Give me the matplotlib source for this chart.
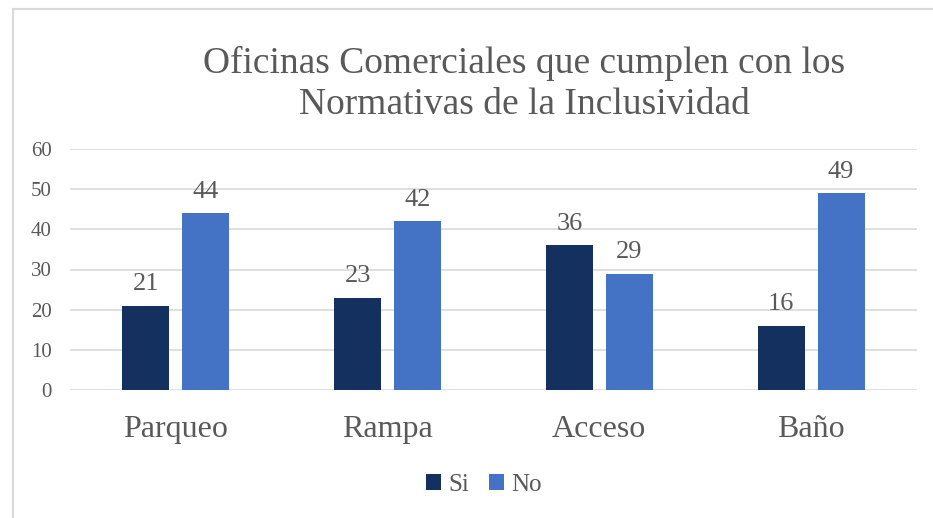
import matplotlib.pyplot as plt
import numpy as np

categories = ['Parqueo', 'Rampa', 'Acceso', 'Baño']
si = [21, 23, 36, 16]
no = [44, 42, 29, 49]
y_ticks = [0, 10, 20, 30, 40, 50, 60]

plt.rcParams['font.family'] = ['Liberation Serif', 'DejaVu Serif']
gris = '#595959'

fig = plt.figure(figsize=(9.33, 5.18), dpi=100)
ax = fig.add_axes([70 / 933, 1 - 390 / 518, (917 - 70) / 933, (390 - 149) / 518])

# Borde del gráfico
fig.add_artist(plt.Line2D([13 / 933, 13 / 933], [0, 1 - 9 / 518], color='#d9d9d9', lw=1.5))
fig.add_artist(plt.Line2D([13 / 933, 1], [1 - 9 / 518, 1 - 9 / 518], color='#d9d9d9', lw=1.5))

x = np.arange(len(categories))
w = 0.222
off = (w + 0.061) / 2
b1 = ax.bar(x - off, si, w, color='#14305e', label='Si', zorder=3)
b2 = ax.bar(x + off, no, w, color='#4472c4', label='No', zorder=3)

for bars in (b1, b2):
    for r in bars:
        ax.text(r.get_x() + r.get_width() / 2, r.get_height() + 2.6, f'{int(r.get_height())}',
                ha='center', va='bottom', fontsize=19, color=gris)

ax.set_xlim(-0.5, 3.5)
ax.set_ylim(0, 60)
ax.set_yticks(y_ticks)
ax.set_yticklabels([str(t) for t in y_ticks], fontsize=15, color=gris)
ax.set_xticks(x)
ax.set_xticklabels(categories, fontsize=23, color=gris)
ax.tick_params(axis='both', length=0)
ax.tick_params(axis='y', pad=13)
ax.tick_params(axis='x', pad=18)
ax.grid(axis='y', color='#d9d9d9', lw=1.2, zorder=0)
for s in ax.spines.values():
    s.set_visible(False)

fig.text(524 / 933, 1 - 84 / 518, 'Oficinas Comerciales que cumplen con los\nNormativas de la Inclusividad',
         ha='center', va='center', fontsize=27, color=gris, linespacing=1.22)

ax.legend(loc='center', bbox_to_anchor=(484 / 933, 1 - 485 / 518), bbox_transform=fig.transFigure,
          ncol=2, frameon=False, fontsize=18, handlelength=0.6, handleheight=0.6,
          handletextpad=0.3, columnspacing=0.8, labelcolor=gris)

plt.savefig('out.png', dpi=100)
